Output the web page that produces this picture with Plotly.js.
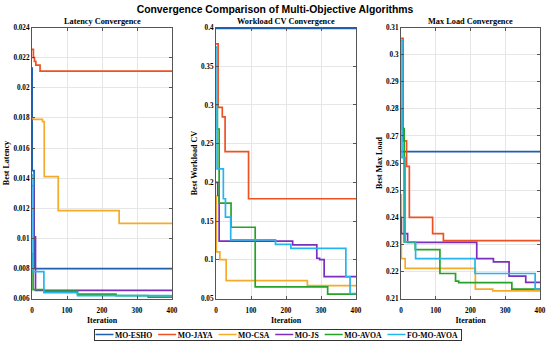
<!DOCTYPE html>
<html><head><meta charset="utf-8">
<script src="https://cdn.plot.ly/plotly-3.0.1.min.js"></script>
<style>html,body{margin:0;padding:0;background:#fff}#chart{width:550px;height:344px}</style>
</head><body><div id="chart"></div>
<script>
// ---------- data ----------
const algorithms = ['MO-ESHO', 'MO-JAYA', 'MO-CSA', 'MO-JS', 'MO-AVOA', 'FO-MO-AVOA'];
const panelTitles = ['Latency Convergence', 'Workload CV Convergence', 'Max Load Convergence'];
const yTitles = ['Best Latency', 'Best Workload CV', 'Best Max Load'];
const xTitle = 'Iteration';
const mainTitle = 'Convergence Comparison of Multi-Objective Algorithms';

// Latency
const latEshoIt = [0, 0.5, 6, 400];
const latEshoVal = [0.0213, 0.0145, 0.0080, 0.0080];
const latJayaIt = [0, 4, 7, 11, 23, 400];
const latJayaVal = [0.02255, 0.0220, 0.02175, 0.0215, 0.0211, 0.0211];
const latCsaIt = [0, 4, 30, 35, 75, 249, 400];
const latCsaVal = [0.0180, 0.0179, 0.01775, 0.0141, 0.01185, 0.0110, 0.0110];
const latJsIt = [0, 5, 10, 400];
const latJsVal = [0.0135, 0.0101, 0.00655, 0.00655];
const latAvoaIt = [0, 3, 34, 130, 240, 332, 400];
const latAvoaVal = [0.0090, 0.0066, 0.0065, 0.0063, 0.0062, 0.0061, 0.0061];
const latFoIt = [0, 3, 34, 130, 400];
const latFoVal = [0.0142, 0.0078, 0.0064, 0.0062, 0.0062];

// Workload CV
const wlEshoIt = [0, 400];
const wlEshoVal = [0.399, 0.399];
const wlJayaIt = [0, 6, 18, 26, 93, 400];
const wlJayaVal = [0.3788, 0.2969, 0.2846, 0.2398, 0.1790, 0.1790];
const wlCsaIt = [0, 1, 11, 29, 261, 400];
const wlCsaVal = [0.182, 0.1105, 0.1003, 0.0732, 0.0669, 0.0669];
const wlJsIt = [0, 5, 9, 219, 288, 296, 309, 400];
const wlJsVal = [0.20, 0.1832, 0.1242, 0.1195, 0.1022, 0.1005, 0.0785, 0.0785];
const wlAvoaIt = [0, 4, 9, 43, 112, 319, 400];
const wlAvoaVal = [0.30, 0.269, 0.1734, 0.1422, 0.0652, 0.0560, 0.0560];
const wlFoIt = [0, 3, 21, 27, 42, 170, 214, 371, 383, 400];
const wlFoVal = [0.3746, 0.2176, 0.1790, 0.1553, 0.1260, 0.1200, 0.1150, 0.0783, 0.0567, 0.0567];

// Max Load
const mlEshoIt = [0, 400];
const mlEshoVal = [0.2642, 0.2642];
const mlJayaIt = [0, 6, 16, 24, 91, 122, 400];
const mlJayaVal = [0.3060, 0.2682, 0.2588, 0.2400, 0.2340, 0.2314, 0.2314];
const mlCsaIt = [0, 1, 12, 214, 264, 400];
const mlCsaVal = [0.2483, 0.2248, 0.2212, 0.2135, 0.2129, 0.2129];
const mlJsIt = [0, 1, 19, 218, 266, 311, 359, 400];
const mlJsVal = [0.2400, 0.2340, 0.2308, 0.2248, 0.2236, 0.2183, 0.2160, 0.2160];
const mlAvoaIt = [0, 4, 9, 41, 112, 157, 166, 319, 400];
const mlAvoaVal = [0.2800, 0.2727, 0.2309, 0.2281, 0.2193, 0.2165, 0.2159, 0.2135, 0.2135];
const mlFoIt = [0, 3, 12, 42, 213, 386, 400];
const mlFoVal = [0.3053, 0.2620, 0.2310, 0.2248, 0.2193, 0.2135, 0.2135];

// ticks
const xTickVals = [0, 100, 200, 300, 400];
const latTickVals = [0.006, 0.008, 0.010, 0.012, 0.014, 0.016, 0.018, 0.020, 0.022, 0.024];
const latTickText = ['0.006', '0.008', '0.01', '0.012', '0.014', '0.016', '0.018', '0.02', '0.022', '0.024'];
const wlTickVals = [0.05, 0.10, 0.15, 0.20, 0.25, 0.30, 0.35, 0.40];
const wlTickText = ['0.05', '0.1', '0.15', '0.2', '0.25', '0.3', '0.35', '0.4'];
const mlTickVals = [0.21, 0.22, 0.23, 0.24, 0.25, 0.26, 0.27, 0.28, 0.29, 0.30, 0.31];
const mlTickText = ['0.21', '0.22', '0.23', '0.24', '0.25', '0.26', '0.27', '0.28', '0.29', '0.3', '0.31'];

// ---------- styling ----------
const colors = ['#1f5fb0', '#ee5122', '#f5ab2a', '#7b2fbf', '#26a326', '#25b5ee'];
const serif = 'Liberation Serif, Times New Roman, serif';

const panels = [
  {its: [latEshoIt, latJayaIt, latCsaIt, latJsIt, latAvoaIt, latFoIt],
   vals: [latEshoVal, latJayaVal, latCsaVal, latJsVal, latAvoaVal, latFoVal],
   range: [0.006, 0.024], tv: latTickVals, tt: latTickText},
  {its: [wlEshoIt, wlJayaIt, wlCsaIt, wlJsIt, wlAvoaIt, wlFoIt],
   vals: [wlEshoVal, wlJayaVal, wlCsaVal, wlJsVal, wlAvoaVal, wlFoVal],
   range: [0.05, 0.40], tv: wlTickVals, tt: wlTickText},
  {its: [mlEshoIt, mlJayaIt, mlCsaIt, mlJsIt, mlAvoaIt, mlFoIt],
   vals: [mlEshoVal, mlJayaVal, mlCsaVal, mlJsVal, mlAvoaVal, mlFoVal],
   range: [0.21, 0.31], tv: mlTickVals, tt: mlTickText}
];

const W = 550, H = 344;
const xDomPx = [[32, 172], [216, 356], [401, 540]];
const yDom = [1 - 304 / H, 1 - 28 / H];

const traces = [];
const layout = {
  width: W, height: H,
  margin: {l: 0, r: 0, t: 0, b: 0},
  paper_bgcolor: '#fff', plot_bgcolor: '#fff',
  showlegend: true,
  title: {text: mainTitle, x: 0.5, xanchor: 'center', y: 1 - 9 / H, yanchor: 'middle',
          font: {family: 'Liberation Sans, Arial, sans-serif', size: 10.4, weight: 'bold', color: '#000'}},
  legend: {orientation: 'h', x: 0.5, xanchor: 'center', y: 1 - 334 / H, yanchor: 'middle',
           font: {family: serif, size: 7.7, weight: 'bold', color: '#000'},
           bordercolor: '#333', borderwidth: 1, bgcolor: '#fff', itemwidth: 30, tracegroupgap: 0},
  annotations: []
};

panels.forEach((p, pi) => {
  const sfx = pi === 0 ? '' : String(pi + 1);
  const xa = 'x' + sfx, ya = 'y' + sfx;
  algorithms.forEach((name, ai) => {
    traces.push({
      type: 'scatter', mode: 'lines', name: name,
      x: p.its[ai], y: p.vals[ai],
      xaxis: xa, yaxis: ya,
      line: {color: colors[ai], width: 1.7, shape: 'hv'},
      showlegend: pi === 0, hoverinfo: 'skip'
    });
  });
  const axCommon = {
    showline: true, linecolor: '#555', linewidth: 1, mirror: 'ticks',
    ticks: 'inside', ticklen: 3, tickcolor: '#555',
    showgrid: true, gridcolor: '#e6e6e6', gridwidth: 1, zeroline: false,
    tickfont: {family: serif, size: 7.2, weight: 'bold', color: '#000'},
    automargin: false, fixedrange: true
  };
  layout['xaxis' + sfx] = Object.assign({}, axCommon, {
    domain: [xDomPx[pi][0] / W, xDomPx[pi][1] / W], anchor: ya,
    range: [0, 400], tickmode: 'array', tickvals: xTickVals, ticklabelstandoff: 5,
    title: {text: xTitle, standoff: 3, font: {family: serif, size: 8, weight: 'bold', color: '#000'}}
  });
  layout['yaxis' + sfx] = Object.assign({}, axCommon, {
    domain: yDom, anchor: xa,
    range: p.range, tickmode: 'array', tickvals: p.tv, ticktext: p.tt,
    title: {text: yTitles[pi], standoff: 2, font: {family: serif, size: 8, weight: 'bold', color: '#000'}}
  });
  layout.annotations.push({
    text: panelTitles[pi], xref: 'paper', yref: 'paper',
    x: (xDomPx[pi][0] + xDomPx[pi][1]) / 2 / W, y: 1 - 22 / H,
    xanchor: 'center', yanchor: 'middle', showarrow: false,
    font: {family: serif, size: 8.3, weight: 'bold', color: '#000'}
  });
});

// compact the library's legend into a MATLAB-like single row box
function compactLegend() {
  const lg = document.querySelector('g.legend');
  if (!lg) return;
  lg.querySelectorAll('g.groups, g.scrollbox').forEach(g => g.setAttribute('transform', 'translate(0,0)'));
  const items = Array.from(lg.querySelectorAll('g.traces'));
  const lineLen = 18, textGap = 1.5, itemGap = 6, padL = 2, padR = 3, h = 11;
  let x = padL;
  items.forEach(it => {
    it.querySelectorAll('g.legendlines path').forEach(pth => pth.setAttribute('d', 'M0,0h' + lineLen));
    const t = it.querySelector('text.legendtext');
    t.setAttribute('x', lineLen + textGap);
    const tw = t.getComputedTextLength();
    it.setAttribute('transform', 'translate(' + x + ',' + (h / 2 + 0.5) + ')');
    x += lineLen + textGap + tw + itemGap;
  });
  const totalW = x - itemGap + padR;
  const bg = lg.querySelector('rect.bg');
  if (bg) {
    bg.setAttribute('x', 0.5); bg.setAttribute('y', 0.5);
    bg.setAttribute('width', totalW); bg.setAttribute('height', h);
  }
  lg.setAttribute('transform', 'translate(' + ((W - totalW) / 2 + 2) + ',' + (334 - h / 2) + ')');
}

Plotly.newPlot('chart', traces, layout, {staticPlot: true, displayModeBar: false}).then(compactLegend);
</script>
</body></html>
